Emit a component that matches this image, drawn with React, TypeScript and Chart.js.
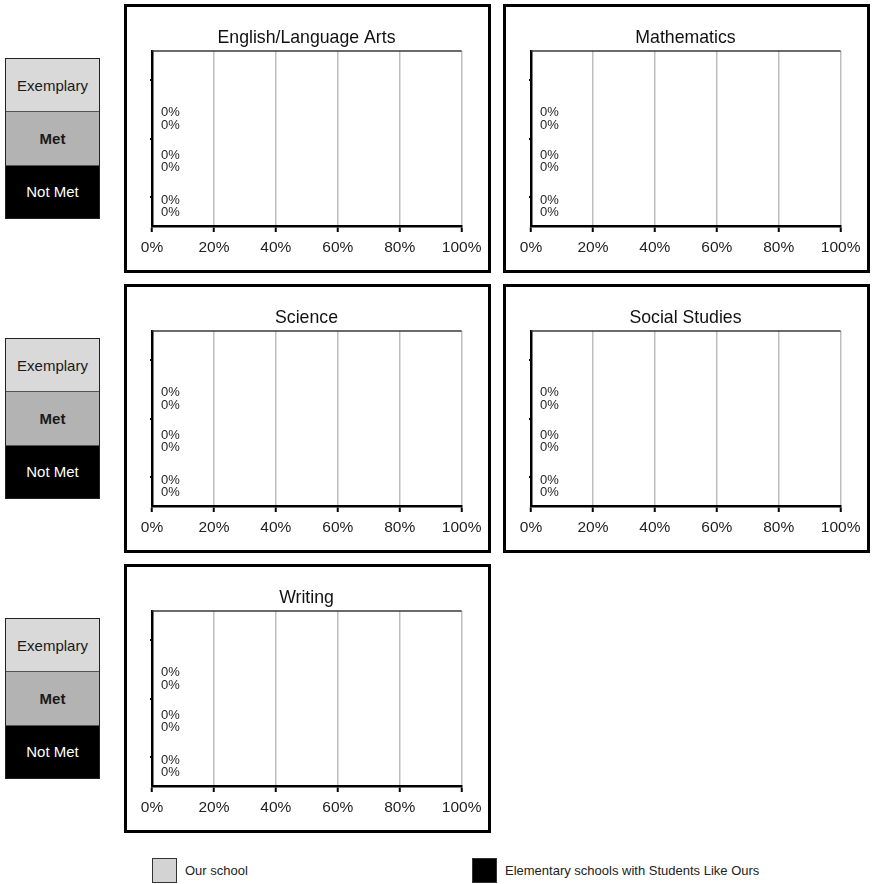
import React, { useEffect, useRef } from 'react';
import { Chart, registerables } from 'chart.js';

Chart.register(...registerables);

// ---------- data ----------
const CATEGORIES = ['Exemplary', 'Met', 'Not Met'];
const SERIES_NAMES = ['Our school', 'Elementary schools with Students Like Ours'];
const SUBJECTS = ['English/Language Arts', 'Mathematics', 'Science', 'Social Studies', 'Writing'];
const X_TICKS = [0, 20, 40, 60, 80, 100];

const ELA_OUR = [0, 0, 0];
const ELA_LIKE = [0, 0, 0];
const MATH_OUR = [0, 0, 0];
const MATH_LIKE = [0, 0, 0];
const SCI_OUR = [0, 0, 0];
const SCI_LIKE = [0, 0, 0];
const SOC_OUR = [0, 0, 0];
const SOC_LIKE = [0, 0, 0];
const WRI_OUR = [0, 0, 0];
const WRI_LIKE = [0, 0, 0];

const SUBJECT_SERIES = [
  [ELA_OUR, ELA_LIKE],
  [MATH_OUR, MATH_LIKE],
  [SCI_OUR, SCI_LIKE],
  [SOC_OUR, SOC_LIKE],
  [WRI_OUR, WRI_LIKE],
];

// ---------- styling ----------
const FONT = '"Liberation Sans", Arial, Helvetica, sans-serif';
const SERIES_COLORS = ['#d3d3d3', '#000000'];
const CAT_FILLS = ['#d9d9d9', '#b3b3b3', '#000000'];
const CAT_TEXT = ['#1a1a1a', '#1a1a1a', '#ffffff'];
const CAT_WEIGHT = ['normal', 'bold', 'normal'];

Chart.defaults.font.family = FONT;

// where the value labels of each category sit, relative to the category centre (px)
const LABEL_SHIFT = [39, 23, 9.5];
const LABEL_GAP = 6.3;

const panelDecor = {
  id: 'panelDecor',
  afterDatasetsDraw(chart: any) {
    const { ctx, chartArea, scales } = chart;
    const yScale = scales.y;
    ctx.save();
    ctx.strokeStyle = '#3a3a3a';
    ctx.lineWidth = 1.5;
    ctx.beginPath();
    ctx.moveTo(chartArea.left, chartArea.top);
    ctx.lineTo(chartArea.right, chartArea.top);
    ctx.stroke();

    ctx.font = `13px ${FONT}`;
    ctx.fillStyle = '#262626';
    ctx.textAlign = 'left';
    ctx.textBaseline = 'middle';
    chart.data.datasets.forEach((ds: any, d: number) => {
      const meta = chart.getDatasetMeta(d);
      meta.data.forEach((el: any, i: number) => {
        const cy = yScale.getPixelForValue(i) + LABEL_SHIFT[i] + (d === 0 ? -LABEL_GAP : LABEL_GAP);
        ctx.fillText(`${ds.data[i]}%`, el.x + 9, cy);
      });
    });
    ctx.restore();
  },
};

const CANVAS_W = 361;
const CANVAS_H = 263;

function SubjectChart({ title, our, like }: { title: string; our: number[]; like: number[] }) {
  const ref = useRef<HTMLCanvasElement>(null);
  useEffect(() => {
    const chart = new Chart(ref.current as HTMLCanvasElement, {
      type: 'bar',
      data: {
        labels: CATEGORIES,
        datasets: [
          { label: SERIES_NAMES[0], data: our, backgroundColor: SERIES_COLORS[0], borderWidth: 0 },
          { label: SERIES_NAMES[1], data: like, backgroundColor: SERIES_COLORS[1], borderWidth: 0 },
        ],
      },
      options: {
        indexAxis: 'y',
        responsive: false,
        animation: false,
        layout: { padding: { left: 21, right: 23, top: 0, bottom: 4 } },
        plugins: {
          legend: { display: false },
          tooltip: { enabled: false },
          title: {
            display: true,
            text: title,
            color: '#111',
            font: { size: 17.7, weight: 'normal', family: FONT, lineHeight: 1.2 },
            padding: { top: 20.5, bottom: 2.26 },
          },
        },
        scales: {
          x: {
            type: 'linear',
            min: 0,
            max: 100,
            afterBuildTicks: (s: any) => {
              s.ticks = X_TICKS.map((v) => ({ value: v }));
            },
            ticks: {
              callback: (v: any) => `${v}%`,
              font: { size: 15.5, family: FONT },
              color: '#1f1f1f',
              padding: 6.5,
              maxRotation: 0,
            },
            grid: { color: '#bdbdbd', lineWidth: 1.5, tickColor: '#000', tickWidth: 2, tickLength: 6 },
            border: { color: '#000', width: 2.5 },
            afterFit: (s: any) => {
              s.height = 40;
            },
          },
          y: {
            ticks: { display: false },
            grid: { drawOnChartArea: false, offset: false, color: '#000', tickLength: 2, lineWidth: 2 },
            border: { color: '#000', width: 2.5 },
            afterFit: (s: any) => {
              s.width = 4;
            },
          },
        },
      } as any,
      plugins: [panelDecor],
    });
    return () => chart.destroy();
  }, [title, our, like]);
  return <canvas ref={ref} width={CANVAS_W} height={CANVAS_H} style={{ display: 'block', width: CANVAS_W, height: CANVAS_H }} />;
}

function CategoryKey({ top }: { top: number }) {
  return (
    <div
      style={{
        position: 'absolute',
        left: 5,
        top,
        width: 95,
        height: 161,
        border: '1.5px solid #222',
        boxSizing: 'border-box',
        display: 'flex',
        flexDirection: 'column',
      }}
    >
      {CATEGORIES.map((c, i) => (
        <div
          key={c}
          style={{
            flex: 1,
            background: CAT_FILLS[i],
            color: CAT_TEXT[i],
            fontWeight: CAT_WEIGHT[i] as any,
            fontFamily: FONT,
            fontSize: 15,
            display: 'flex',
            alignItems: 'center',
            justifyContent: 'center',
            borderTop: i > 0 ? '1px solid #555' : 'none',
          }}
        >
          {c}
        </div>
      ))}
    </div>
  );
}

const PANEL_LEFTS = [124, 503];
const ROW_TOPS = [4, 284, 564];

export default function App() {
  return (
    <div style={{ position: 'absolute', left: 0, top: 0, width: 872, height: 884, background: '#fff', fontFamily: FONT }}>
      {ROW_TOPS.map((t) => (
        <CategoryKey key={t} top={t + 54} />
      ))}
      {SUBJECTS.map((s, i) => {
        const row = Math.floor(i / 2);
        const col = i % 2;
        return (
          <div
            key={s}
            style={{
              position: 'absolute',
              left: PANEL_LEFTS[col],
              top: ROW_TOPS[row],
              width: 367,
              height: 269,
              border: '3px solid #000',
              boxSizing: 'border-box',
            }}
          >
            <SubjectChart title={s} our={SUBJECT_SERIES[i][0]} like={SUBJECT_SERIES[i][1]} />
          </div>
        );
      })}
      {/* legend */}
      {SERIES_NAMES.map((n, i) => (
        <div key={n} style={{ position: 'absolute', left: i === 0 ? 152 : 472, top: 858, height: 25, display: 'flex', alignItems: 'center' }}>
          <div
            style={{
              width: 25,
              height: 25,
              boxSizing: 'border-box',
              background: SERIES_COLORS[i],
              border: '1.5px solid #333',
            }}
          />
          <span style={{ marginLeft: 8, fontSize: 13, color: '#222', fontFamily: FONT, whiteSpace: 'nowrap' }}>{n}</span>
        </div>
      ))}
    </div>
  );
}
